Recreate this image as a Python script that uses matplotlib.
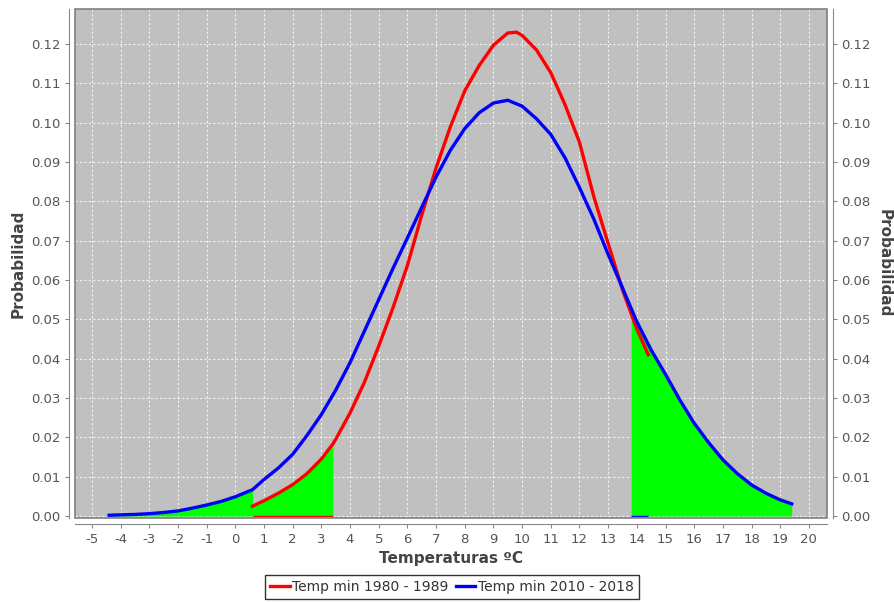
import matplotlib
matplotlib.use("Agg")
import matplotlib.pyplot as plt
from matplotlib.patches import Rectangle
import numpy as np

# ---- data ----
blue_label = "Temp min 2010 - 2018"
blue_t = [-4.4, -4.0, -3.5, -3.0, -2.5, -2.0, -1.5, -1.0, -0.5, 0.0, 0.6, 1.0, 1.5, 2.0,
          2.5, 3.0, 3.5, 4.0, 4.5, 5.0, 5.5, 6.0, 6.5, 7.0, 7.5, 8.0, 8.5, 9.0, 9.5,
          10.0, 10.5, 11.0, 11.5, 12.0, 12.5, 13.0, 13.5, 13.8, 14.0, 14.5, 15.0, 15.5,
          16.0, 16.5, 17.0, 17.5, 18.0, 18.5, 19.0, 19.4]
blue_p = [0.0002, 0.0003, 0.0004, 0.0006, 0.0009, 0.0013, 0.0020, 0.0028, 0.0037, 0.0049,
          0.0067, 0.0093, 0.0122, 0.0157, 0.0205, 0.0258, 0.0320, 0.0390, 0.0470, 0.0550,
          0.0630, 0.0707, 0.0785, 0.0862, 0.0930, 0.0985, 0.1025, 0.1050, 0.1057, 0.1042,
          0.1010, 0.0970, 0.0910, 0.0835, 0.0755, 0.0665, 0.0580, 0.0528, 0.0494, 0.0422,
          0.0360, 0.0295, 0.0236, 0.0187, 0.0143, 0.0108, 0.0079, 0.0058, 0.0041, 0.0031]

red_label = "Temp min 1980 - 1989"
red_t = [0.6, 1.0, 1.5, 2.0, 2.5, 3.0, 3.4, 3.5, 4.0, 4.5, 5.0, 5.5, 6.0, 6.5, 7.0, 7.5,
         8.0, 8.5, 9.0, 9.5, 9.8, 10.0, 10.5, 11.0, 11.5, 12.0, 12.5, 13.0, 13.5, 14.0, 14.4]
red_p = [0.0025, 0.0039, 0.0058, 0.0080, 0.0108, 0.0145, 0.0183, 0.0195, 0.0262, 0.0340,
         0.0432, 0.0530, 0.0637, 0.0765, 0.0885, 0.0990, 0.1081, 0.1145, 0.1197, 0.1228,
         0.1230, 0.1222, 0.1185, 0.1127, 0.1045, 0.0950, 0.0812, 0.0693, 0.0575, 0.0475,
         0.0410]

# green shaded ranges: (series, start, end)
green_ranges = [("blue", -4.4, 0.6), ("red", 0.6, 3.4), ("blue", 13.8, 19.4)]
# thin coloured base edges seen at probability zero: (series, start, end)
zero_edges = [("red", 0.6, 3.4), ("blue", 13.8, 14.4)]

x_ticks = list(range(-5, 21))
y_ticks = [0.00, 0.01, 0.02, 0.03, 0.04, 0.05, 0.06, 0.07, 0.08, 0.09, 0.10, 0.11, 0.12]
x_label = "Temperaturas ºC"
y_label = "Probabilidad"

# ---- figure ----
W, H = 894, 602
fig = plt.figure(figsize=(W / 100, H / 100), dpi=100)
left, right, top, bottom = 75 / W, 827 / W, 1 - 9 / H, 1 - 518 / H
ax = fig.add_axes([left, bottom, right - left, top - bottom])
ax.set_facecolor("#C0C0C0")

ax.set_xlim(-5.59, 20.63)
ax.set_ylim(-0.0005, 0.1289)

series = {"blue": (np.array(blue_t), np.array(blue_p)),
          "red": (np.array(red_t), np.array(red_p))}
edge_col = {"blue": "#0000FF", "red": "#FF0000"}
for name, a, b in green_ranges:
    t, p = series[name]
    m = (t >= a - 1e-9) & (t <= b + 1e-9)
    ax.fill_between(t[m], 0, p[m], color="#00FF00", lw=0, zorder=2)
for name, a, b in zero_edges:
    ax.plot([a, b], [0, 0], color=edge_col[name], lw=1.0, zorder=2.5, solid_capstyle="butt")

ax.plot(red_t, red_p, color="#FF0000", lw=2.4, zorder=3, label=red_label,
        solid_joinstyle="round")
ax.plot(blue_t, blue_p, color="#0000FF", lw=2.4, zorder=4, label=blue_label,
        solid_joinstyle="round")

ax.set_xticks(x_ticks)
ax.set_xticklabels([str(v) for v in x_ticks])
ax.set_yticks(y_ticks)
ax.set_yticklabels([f"{v:.2f}" for v in y_ticks])
ax.grid(True, color="white", lw=0.8, ls=(0, (2, 2)), alpha=0.8)
ax.set_axisbelow(True)

tick_col = "#555555"
for s in ["left", "bottom"]:
    ax.spines[s].set_position(("outward", 4))
    ax.spines[s].set_color("#888888")
ax.spines["top"].set_visible(False)
ax.spines["right"].set_visible(False)
ax.tick_params(axis="both", colors="#888888", labelcolor=tick_col, labelsize=9.5,
               length=3, width=0.8, direction="out")
ax.add_patch(Rectangle((0, 0), 1, 1, transform=ax.transAxes, fill=False,
                       edgecolor="#808080", lw=1.2, zorder=10, clip_on=False))

ax2 = ax.twinx()
ax2.set_ylim(ax.get_ylim())
ax2.set_yticks(y_ticks)
ax2.set_yticklabels([f"{v:.2f}" for v in y_ticks])
ax2.spines["right"].set_position(("outward", 4))
ax2.spines["right"].set_color("#888888")
for s in ["left", "top", "bottom"]:
    ax2.spines[s].set_visible(False)
ax2.tick_params(axis="y", colors="#888888", labelcolor=tick_col, labelsize=9.5,
                length=3, width=0.8, direction="out")

lab_font = dict(fontsize=11, fontweight="bold", color="#444444")
ax.set_xlabel(x_label, labelpad=4, **lab_font)
ax.set_ylabel(y_label, labelpad=4, **lab_font)
ycen = (top + bottom) / 2
fig.text(884 / W, ycen, y_label, rotation=270, ha="center", va="center", **lab_font)

handles, labels = ax.get_legend_handles_labels()
leg = fig.legend(handles, labels, loc="upper center", bbox_to_anchor=(0.5055, 1 - 575 / H),
                 ncol=2, frameon=True, fancybox=False, edgecolor="black", fontsize=10,
                 handlelength=1.4, handletextpad=0.2, columnspacing=0.5, borderpad=0.35,
                 borderaxespad=0)
leg.get_frame().set_linewidth(1.0)
for txt in leg.get_texts():
    txt.set_color("#333333")

fig.savefig("out.png", dpi=100)
